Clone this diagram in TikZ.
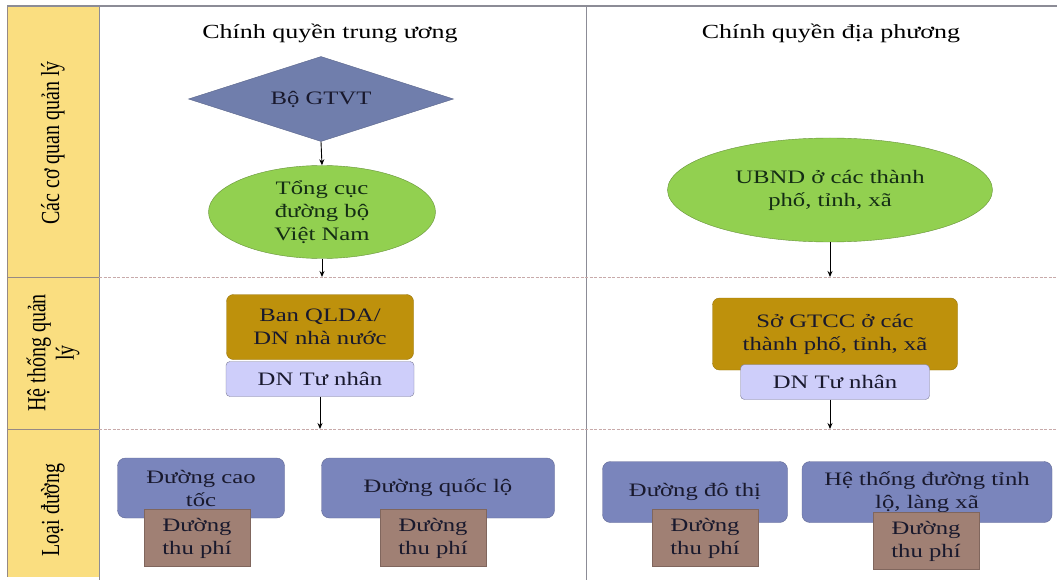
\documentclass[tikz,border=0pt]{standalone}
\usepackage{fontspec}
\setmainfont{Liberation Serif}[FakeStretch=1.3]
\newfontfamily\sidefont{Liberation Serif}
\usetikzlibrary{shapes.geometric,arrows.meta}
\definecolor{colyellow}{RGB}{250,222,128}
\definecolor{colframe}{RGB}{140,140,150}
\definecolor{coldash}{RGB}{200,170,170}
\definecolor{diamcol}{RGB}{112,126,172}
\definecolor{ellcol}{RGB}{146,208,80}
\definecolor{goldcol}{RGB}{190,145,12}
\definecolor{lavcol}{RGB}{206,206,250}
\definecolor{bluecol}{RGB}{122,133,188}
\definecolor{browncol}{RGB}{160,128,116}
\definecolor{txtdark}{RGB}{25,25,45}
\definecolor{txtgreen}{RGB}{20,45,20}
\begin{document}
\begin{tikzpicture}[x=1pt,y=-1pt,
  every node/.style={font=\fontsize{19}{23}\selectfont, text=txtdark, align=center},
  titlelbl/.style={font=\fontsize{20}{24}\selectfont, text=black},
  sidelbl/.style={font=\sidefont\fontsize{20}{22}\selectfont, text=black, rotate=90, yscale=1.3},
  diam/.style={diamond, shape aspect=3, fill=diamcol, draw=diamcol!80!black, inner sep=0pt},
  ell/.style={ellipse, fill=ellcol, draw=ellcol!70!black, inner sep=0pt, text=txtgreen},
  goldbox/.style={rectangle, rounded corners=7pt, fill=goldcol, draw=goldcol!80!black, inner sep=0pt},
  lavbox/.style={rectangle, rounded corners=4pt, fill=lavcol, draw=lavcol!60!black, inner sep=0pt},
  bluebox/.style={rectangle, rounded corners=8pt, fill=bluecol, draw=bluecol!80!black, inner sep=0pt},
  feebox/.style={rectangle, fill=browncol, draw=browncol!80!black, inner sep=0pt, minimum width=106pt, minimum height=57pt},
  arr/.style={draw=black, line width=0.9pt, -{Stealth[length=6pt,width=5pt]}},
  dashl/.style={draw=coldash, line width=0.8pt, dash pattern=on 3pt off 1.5pt}
]
\useasboundingbox (0,0) rectangle (1057,580);
\fill[white] (0,0) rectangle (1057,580);
% left column
\fill[colyellow] (7,6) rectangle (99,577);
\draw[colframe!80!brown, line width=0.8pt] (7,6) -- (7,577);
\draw[colframe, line width=1pt] (99,6) -- (99,580);
\draw[colframe!80!brown, line width=0.8pt] (7,277) -- (99,277);
\draw[colframe!80!brown, line width=0.8pt] (7,429) -- (99,429);
% frame
\draw[colframe, line width=1.5pt] (7,6) -- (1057,6);
\draw[colframe, line width=1pt] (586,6) -- (586,580);
\draw[dashl] (99,277) -- (1057,277);
\draw[dashl] (99,429) -- (1057,429);
% side labels
\node[sidelbl] (s1) at (53,143) {Các cơ quan quản lý};
\node[sidelbl] (s2) at (53,353) {Hệ thống quản\\lý};
\node[sidelbl] (s3) at (53,510) {Loại đường};
% titles
\node[titlelbl] (t1) at (330,33) {Chính quyền trung ương};
\node[titlelbl] (t2) at (831,33) {Chính quyền địa phương};
% central
\node[diam, minimum width=265pt, minimum height=85pt] (gtvt) at (321,99) {Bộ GTVT};
\node[ell, minimum width=227pt, minimum height=93pt] (tc) at (322,212) {Tổng cục\\đường bộ\\Việt Nam};
\node[goldbox, minimum width=187pt, minimum height=65pt] (ban) at (320,327) {Ban QLDA/\\DN nhà nước};
\node[lavbox, minimum width=188pt, minimum height=35pt] (dn1) at (320,379) {DN Tư nhân};
% local
\node[ell, minimum width=325pt, minimum height=104pt] (ubnd) at (830,190) {UBND ở các thành\\phố, tỉnh, xã};
\node[goldbox, minimum width=245pt, minimum height=72pt] (so) at (835,334) {Sở GTCC ở các\\thành phố, tỉnh, xã};
\node[lavbox, minimum width=189pt, minimum height=35pt] (dn2) at (835,382) {DN Tư nhân};
% connector ends
\coordinate (e1) at (322,277);
\coordinate (e2) at (830,277);
\coordinate (e3) at (320,429);
\coordinate (e4) at (830,429);
\draw[arr] (gtvt.south) -- (tc.north);
\draw[arr] (tc.south) -- (e1);
\draw[arr] (ubnd.south) -- (e2);
\draw[arr] (dn1.south) -- (e3);
\draw[arr] (dn2.south -| e4) -- (e4);
% road types
\node[bluebox, minimum width=167pt, minimum height=60pt] (cao) at (201,488) {Đường cao\\tốc};
\node[feebox] (f1) at (197,538) {Đường\\thu phí};
\node[bluebox, minimum width=233pt, minimum height=60pt] (ql) at (438,488) {Đường quốc lộ};
\node[feebox] (f2) at (433,538) {Đường\\thu phí};
\node[bluebox, minimum width=185pt, minimum height=61pt] (dt) at (695,492) {Đường đô thị};
\node[feebox] (f3) at (705,538) {Đường\\thu phí};
\node[bluebox, minimum width=250pt, minimum height=61pt] (tl) at (927,492) {Hệ thống đường tỉnh\\lộ, làng xã};
\node[feebox] (f4) at (926,541) {Đường\\thu phí};
\end{tikzpicture}
\end{document}
